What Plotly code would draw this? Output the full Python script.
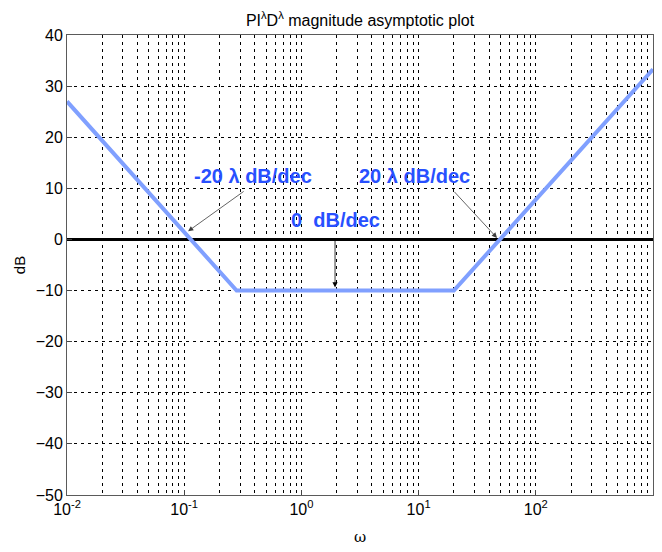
import plotly.graph_objects as go

# data
omega = [0.01, 0.28, 20, 1000]
mag_db = [27, -10, -10, 33.3]
zero_x = [0.01, 1000]
zero_y = [0, 0]
xtick_vals = [0.01, 0.1, 1, 10, 100, 1000]
xtick_text = ["10<sup>-2</sup>", "10<sup>-1</sup>", "10<sup>0</sup>", "10<sup>1</sup>", "10<sup>2</sup>", "10<sup>3</sup>"]
xminor_vals = [m * d for d in [0.01, 0.1, 1, 10, 100] for m in range(2, 10)]
ytick_vals = [-50, -40, -30, -20, -10, 0, 10, 20, 30, 40]

blue = "rgb(128,160,255)"
fig = go.Figure()
fig.add_trace(go.Scatter(x=zero_x, y=zero_y, mode="lines",
                         line=dict(color="black", width=3), showlegend=False))
fig.add_trace(go.Scatter(x=omega, y=mag_db, mode="lines",
                         line=dict(color=blue, width=4), showlegend=False))

afont = dict(family="Liberation Sans, Arial", size=20, color="rgb(40,80,255)")
fig.add_annotation(x=-0.413, y=12.4, xref="x", yref="y", text="<b>-20 λ dB/dec</b>",
                   showarrow=False, font=afont)
fig.add_annotation(x=0.969, y=12.4, xref="x", yref="y", text="<b>20 λ dB/dec</b>",
                   showarrow=False, font=afont)
fig.add_annotation(x=0.287, y=3.8, xref="x", yref="y", text="<b>0  dB/dec</b>",
                   showarrow=False, font=afont)
# arrows
fig.add_annotation(x=-0.967, y=1.6, ax=-0.48, ay=9.6, xref="x", yref="y", axref="x", ayref="y",
                   text="", showarrow=True, arrowhead=2, arrowsize=1.3, arrowwidth=0.8, arrowcolor="rgb(60,60,60)")
fig.add_annotation(x=1.669, y=0.3, ax=1.294, ay=9.6, xref="x", yref="y", axref="x", ayref="y",
                   text="", showarrow=True, arrowhead=2, arrowsize=1.3, arrowwidth=0.8, arrowcolor="rgb(60,60,60)")
fig.add_annotation(x=0.287, y=-9.4, ax=0.287, ay=0, xref="x", yref="y", axref="x", ayref="y",
                   text="", showarrow=True, arrowhead=2, arrowsize=1.3, arrowwidth=0.8, arrowcolor="black")

gridkw = dict(showgrid=True, gridcolor="black", gridwidth=1, griddash="3px,4px")
fig.update_layout(
    width=654, height=544,
    margin=dict(l=59, r=9, t=27, b=57, autoexpand=False),
    paper_bgcolor="white", plot_bgcolor="white",
    font=dict(family="Liberation Sans, Arial", size=16, color="black"),
    title=dict(text="PI<sup>λ</sup>D<sup>λ</sup> magnitude asymptotic plot", xref="paper", x=0.5,
               xanchor="center", yref="container", y=0.977, yanchor="middle", font=dict(size=16)),
    xaxis=dict(type="log", range=[-2, 3], tickvals=xtick_vals, ticktext=xtick_text,
               ticks="inside", ticklen=5, showline=True, linecolor="rgb(90,90,90)", mirror=True,
               zeroline=False, automargin=False,
               minor=dict(tickmode="array", tickvals=xminor_vals, showgrid=True, gridcolor="black",
                          gridwidth=1, griddash="3px,4px", ticks=""),
               title=dict(text="ω", font=dict(family="DejaVu Serif", size=15), standoff=14),
               **gridkw),
    yaxis=dict(range=[-50, 40], tickvals=ytick_vals, ticks="inside", ticklen=5,
               showline=True, linecolor="rgb(90,90,90)", mirror=True, zeroline=False, automargin=False,
               title=dict(text="dB", font=dict(size=15), standoff=6),
               **gridkw),
)
fig.write_html("out.html")
